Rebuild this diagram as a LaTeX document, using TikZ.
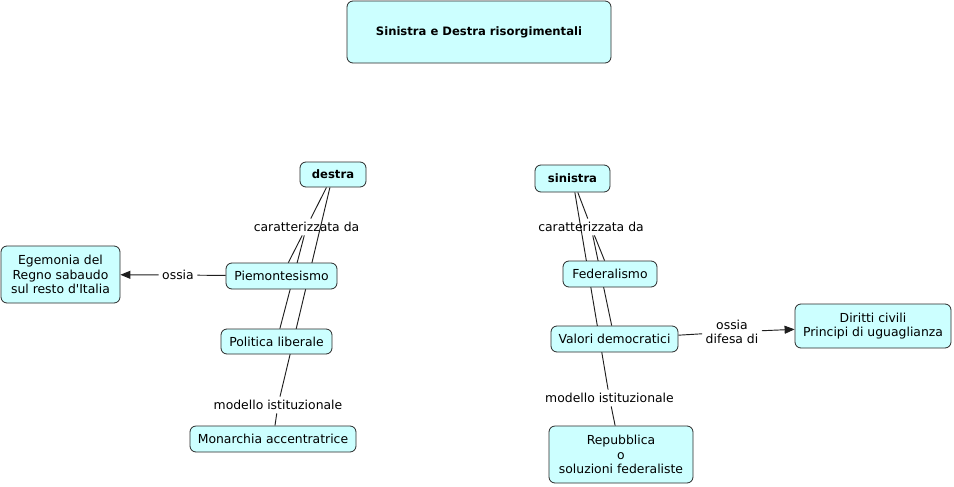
\documentclass[tikz,border=0pt]{standalone}
\usepackage{fontspec}
\setmainfont{DejaVu Sans}
\usetikzlibrary{arrows.meta}
\pgfdeclarelayer{bg}
\pgfsetlayers{bg,main}
\definecolor{boxfill}{RGB}{204,255,255}
\definecolor{boxline}{RGB}{40,40,40}
\definecolor{conline}{RGB}{30,30,30}
\tikzset{
  concept/.style={draw=boxline, fill=boxfill, line width=0.6pt, rounded corners=4.5pt,
    inner sep=0pt, align=center, font=\fontsize{9.3}{11}\selectfont},
  boldconcept/.style={concept, font=\fontsize{8.7}{11}\selectfont\bfseries},
  linklabel/.style={inner sep=2.5pt, align=center, font=\fontsize{9.3}{11}\selectfont},
  conn/.style={draw=conline, line width=0.7pt},
  arrowconn/.style={conn, -{Triangle[length=7.5pt,width=6pt]}}
}
\begin{document}
\begin{tikzpicture}[x=0.75pt,y=-0.75pt]
\useasboundingbox (0,0) rectangle (954,486);
% concepts
\node[boldconcept, minimum width=198pt, minimum height=46.5pt] (title) at (479,32) {Sinistra e Destra risorgimentali};
\node[boldconcept, minimum width=49.5pt, minimum height=18.75pt] (destra) at (333,174.5) {destra};
\node[boldconcept, minimum width=56.25pt, minimum height=20.25pt] (sinistra) at (572.5,178.5) {sinistra};
\node[concept, minimum width=83.25pt, minimum height=19.5pt] (piem) at (281.5,276) {Piemontesismo};
\node[concept, minimum width=83.25pt, minimum height=18.75pt] (polit) at (276.5,341.5) {Politica liberale};
\node[concept, minimum width=124.5pt, minimum height=19.5pt] (monar) at (273,439) {Monarchia accentratrice};
\node[concept, minimum width=89.25pt, minimum height=42.75pt] (egem) at (60.5,274.5) {Egemonia del\\Regno sabaudo\\sul resto d\textquotesingle Italia};
\node[concept, minimum width=70.5pt, minimum height=19.5pt] (feder) at (610,274) {Federalismo};
\node[concept, minimum width=95.25pt, minimum height=19.5pt] (valori) at (614.5,339) {Valori democratici};
\node[concept, minimum width=108pt, minimum height=42.75pt] (repub) at (621,454.5) {Repubblica\\o\\soluzioni federaliste};
\node[concept, minimum width=117pt, minimum height=33pt] (diritti) at (873,326) {Diritti civili\\Principi di uguaglianza};
% link labels
\node[linklabel] (cd1) at (306.5,227) {caratterizzata da};
\node[linklabel] (mi1) at (278,405) {modello istituzionale};
\node[linklabel] (os1) at (178,275) {ossia};
\node[linklabel] (cd2) at (591,227) {caratterizzata da};
\node[linklabel] (mi2) at (609.5,398) {modello istituzionale};
\node[linklabel] (os2) at (732,332) {ossia\\difesa di};
% connectors
\begin{pgfonlayer}{bg}
\draw[conn] (destra) -- (cd1);
\draw[conn] (cd1) -- (piem);
\draw[conn] (cd1) -- (polit);
\draw[conn] (destra) -- (mi1);
\draw[conn] (mi1) -- (monar);
\draw[conn] (piem) -- (os1);
\draw[arrowconn] (os1) -- (egem);
\draw[conn] (sinistra) -- (cd2);
\draw[conn] (cd2) -- (feder);
\draw[conn] (cd2) -- (valori);
\draw[conn] (sinistra) -- (mi2);
\draw[conn] (mi2) -- (repub);
\draw[conn] (valori) -- (os2);
\draw[arrowconn] (os2) -- (diritti);
\end{pgfonlayer}
\end{tikzpicture}
\end{document}
